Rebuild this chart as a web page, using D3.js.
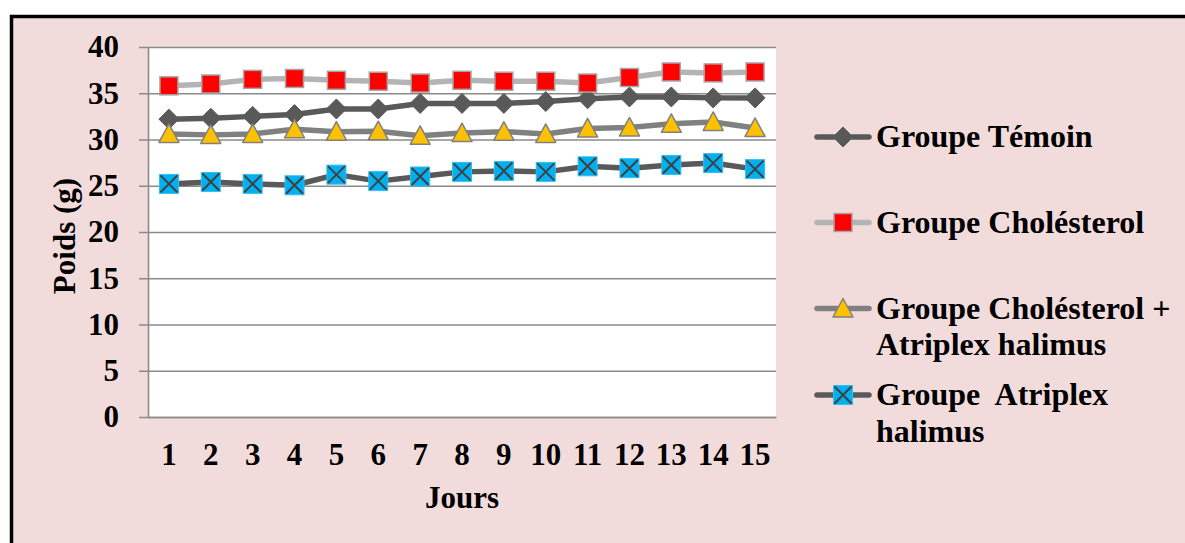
<!DOCTYPE html>
<html>
<head>
<meta charset="utf-8">
<script src="https://cdn.jsdelivr.net/npm/d3@7"></script>
<style>
  html, body { margin: 0; padding: 0; background: #ffffff; }
  svg { display: block; }
  text { font-family: "Liberation Serif", "Times New Roman", serif; font-weight: bold; fill: #000; }
</style>
</head>
<body>
<svg id="chart" width="1185" height="543"></svg>
<script>
// Body weight (g) per day for each group
const days = [1, 2, 3, 4, 5, 6, 7, 8, 9, 10, 11, 12, 13, 14, 15];
const temoin       = [32.2, 32.3, 32.5, 32.7, 33.3, 33.3, 33.9, 33.9, 33.9, 34.1, 34.4, 34.6, 34.6, 34.5, 34.5];
const cholesterol  = [35.8, 36.0, 36.5, 36.6, 36.4, 36.3, 36.1, 36.4, 36.3, 36.3, 36.1, 36.7, 37.3, 37.2, 37.3];
const cholAtriplex = [30.6, 30.5, 30.6, 31.1, 30.85, 30.9, 30.4, 30.7, 30.85, 30.6, 31.2, 31.3, 31.7, 31.9, 31.25];
const atriplex     = [25.2, 25.4, 25.2, 25.05, 26.2, 25.5, 26.0, 26.5, 26.6, 26.5, 27.1, 26.9, 27.25, 27.45, 26.8];
const yTicks = [0, 5, 10, 15, 20, 25, 30, 35, 40];

const seriesNames = ["Groupe Témoin", "Groupe Cholésterol", "Groupe Cholésterol +\nAtriplex halimus", "Groupe  Atriplex\nhalimus"];
const seriesValues = [temoin, cholesterol, cholAtriplex, atriplex];
const lineColors = ["#595959", "#b4b4b4", "#808080", "#595959"];
const markerKinds = ["diamond", "square", "triangle", "xsquare"];

const svg = d3.select("#chart");
const plot = { left: 148, right: 776, top: 47, bottom: 417 };

// Chart frame
svg.append("rect")
  .attr("x", 11.5).attr("y", 16.5)
  .attr("width", 1300).attr("height", 700)
  .attr("fill", "#f2dcdb")
  .attr("stroke", "#000").attr("stroke-width", 3.5);

svg.append("rect")
  .attr("x", plot.left).attr("y", plot.top)
  .attr("width", plot.right - plot.left).attr("height", plot.bottom - plot.top)
  .attr("fill", "#ffffff");

const x = d3.scaleBand().domain(days).range([plot.left, plot.right]).padding(0);
const cx = d => x(d) + x.bandwidth() / 2;
const y = d3.scaleLinear().domain([0, 40]).range([plot.bottom, plot.top]);

// Horizontal gridlines with their tick stubs
const grid = svg.append("g")
  .attr("transform", `translate(139,0)`)
  .call(d3.axisLeft(y).tickValues(yTicks).tickSize(-(plot.right - 139)).tickFormat(""));
grid.select(".domain").remove();
grid.selectAll("line").attr("stroke", "#8a8a8a").attr("stroke-width", 1.6);

// Y tick labels
const yLab = svg.append("g")
  .attr("transform", `translate(139,0)`)
  .call(d3.axisLeft(y).tickValues(yTicks).tickSize(0).tickPadding(20));
yLab.select(".domain").remove();
yLab.selectAll("text").attr("font-size", 31).attr("font-family", null);

// Vertical axis line
const yAxisLine = svg.append("g")
  .attr("transform", `translate(${plot.left},0)`)
  .call(d3.axisLeft(y).tickValues([]).tickSizeOuter(0));
yAxisLine.select(".domain").attr("stroke", "#8a8a8a").attr("stroke-width", 1.6);

// X axis
const xAxis = svg.append("g")
  .attr("transform", `translate(0,${plot.bottom})`)
  .call(d3.axisBottom(x).tickSize(0).tickPadding(26).tickSizeOuter(0));
xAxis.select(".domain").attr("stroke", "#8a8a8a").attr("stroke-width", 1.6);
xAxis.selectAll("text").attr("font-size", 31).attr("font-family", null);

// Axis titles
svg.append("text")
  .attr("transform", "translate(75,236) rotate(-90)")
  .attr("text-anchor", "middle")
  .attr("font-size", 31)
  .text("Poids (g)");

svg.append("text")
  .attr("x", (plot.left + plot.right) / 2).attr("y", 508)
  .attr("text-anchor", "middle")
  .attr("font-size", 31)
  .text("Jours");

// Marker drawing
function drawMarker(g, kind, px, py) {
  if (kind === "diamond") {
    g.append("path")
      .attr("d", `M${px},${py - 10}L${px + 10},${py}L${px},${py + 10}L${px - 10},${py}Z`)
      .attr("fill", "#595959").attr("stroke", "#595959").attr("stroke-width", 1);
  } else if (kind === "square") {
    g.append("rect")
      .attr("x", px - 9).attr("y", py - 9).attr("width", 18).attr("height", 18)
      .attr("fill", "#ff0000").attr("stroke", "#a6a6a6").attr("stroke-width", 1.5);
  } else if (kind === "triangle") {
    g.append("path")
      .attr("d", `M${px},${py - 10}L${px + 10},${py + 8.5}L${px - 10},${py + 8.5}Z`)
      .attr("fill", "#ffc000").attr("stroke", "#808080").attr("stroke-width", 1.5)
      .attr("stroke-linejoin", "round");
  } else if (kind === "xsquare") {
    g.append("rect")
      .attr("x", px - 9.5).attr("y", py - 9.5).attr("width", 19).attr("height", 19)
      .attr("fill", "#00b0f0").attr("stroke", "#33bff2").attr("stroke-width", 1);
    g.append("path")
      .attr("d", `M${px - 8.5},${py - 8.5}L${px + 8.5},${py + 8.5}M${px + 8.5},${py - 8.5}L${px - 8.5},${py + 8.5}`)
      .attr("stroke", "#404040").attr("stroke-width", 2);
  }
}

// Series lines and markers
const line = d3.line().x((v, i) => cx(days[i])).y(v => y(v));
seriesValues.forEach((vals, s) => {
  const g = svg.append("g");
  g.append("path")
    .attr("d", line(vals))
    .attr("fill", "none")
    .attr("stroke", lineColors[s])
    .attr("stroke-width", 5.5)
    .attr("stroke-linejoin", "round")
    .attr("stroke-linecap", "round");
  vals.forEach((v, i) => drawMarker(g, markerKinds[s], cx(days[i]), y(v)));
});

// Legend
const legendBaselines = [147, 232.5, 318.5, 405];
const lineGap = 36.7;
seriesNames.forEach((name, s) => {
  const g = svg.append("g");
  const ly = legendBaselines[s] - 10;
  g.append("line")
    .attr("x1", 817).attr("x2", 869).attr("y1", ly).attr("y2", ly)
    .attr("stroke", lineColors[s]).attr("stroke-width", 5.5).attr("stroke-linecap", "round");
  drawMarker(g, markerKinds[s], 843, ly);
  const t = g.append("text")
    .attr("x", 876).attr("y", legendBaselines[s])
    .attr("font-size", 32)
    .style("white-space", "pre");
  name.split("\n").forEach((part, k) => {
    t.append("tspan").attr("x", 876).attr("dy", k === 0 ? 0 : lineGap).text(part);
  });
});
</script>
</body>
</html>
